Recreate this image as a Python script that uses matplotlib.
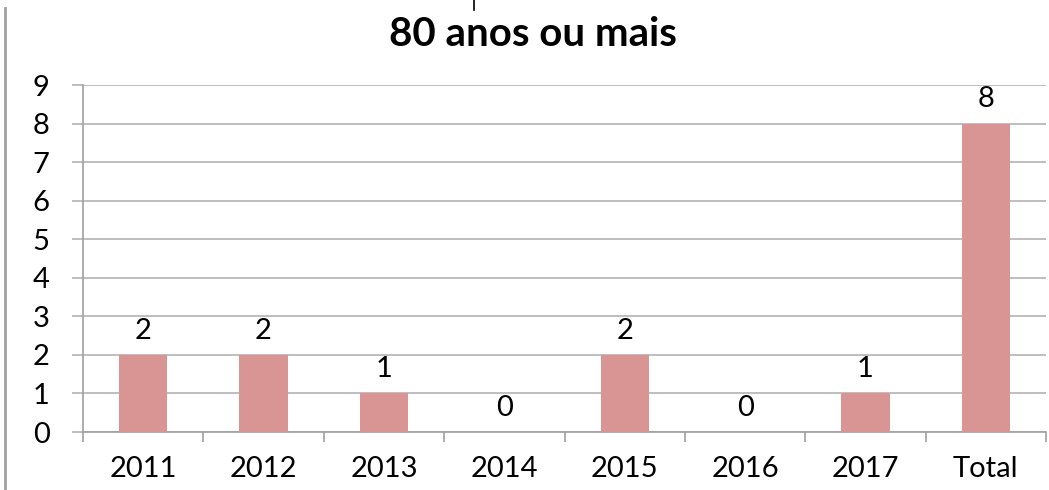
import matplotlib.pyplot as plt
from matplotlib.lines import Line2D

categories = ['2011', '2012', '2013', '2014', '2015', '2016', '2017', 'Total']
values = [2, 2, 1, 0, 2, 0, 1, 8]
title = '80 anos ou mais'

plt.rcParams['font.family'] = ['Lato', 'DejaVu Sans']

fig = plt.figure(figsize=(10.49, 4.9), dpi=100)
ax = fig.add_axes([83 / 1049, 58 / 490, 963 / 1049, 347 / 490])

x = range(len(categories))
bars = ax.bar(x, values, width=0.4, color='#d99594', zorder=3)

# data labels
for xi, v in zip(x, values):
    ax.annotate(str(v), (xi, v), xytext=(0, 8), textcoords='offset points',
                ha='center', va='bottom', fontsize=21, color='black')

ax.set_xlim(-0.5, len(categories) - 0.5)
ax.set_ylim(0, 9)
ax.set_yticks(range(10))
ax.yaxis.grid(True, color='#b3b3b3', linewidth=1.2, zorder=0)
ax.tick_params(axis='y', length=8, width=1.2, color='#b3b3b3', pad=16, labelsize=21)

# category labels at centres, tick marks at boundaries
ax.set_xticks(list(x))
ax.set_xticklabels(categories, fontsize=21)
ax.tick_params(axis='x', length=0, pad=17)
ax.set_xticks([i - 0.5 for i in range(len(categories) + 1)], minor=True)
ax.tick_params(axis='x', which='minor', length=7, width=1.2, color='#a0a0a0')

for s in ['top', 'right']:
    ax.spines[s].set_visible(False)
ax.spines['left'].set_color('#a0a0a0')
ax.spines['left'].set_linewidth(1.2)
ax.spines['bottom'].set_color('#a0a0a0')
ax.spines['bottom'].set_linewidth(1.2)

fig.text(533 / 1049, 1 - 35 / 490, title, ha='center', va='center',
         fontsize=29, fontweight='bold')

# page border remnants
fig.add_artist(Line2D([5 / 1049, 5 / 1049], [0, 1 - 8 / 490], color='#a0a0a0', linewidth=2))
fig.add_artist(Line2D([474 / 1049, 474 / 1049], [1, 1 - 10 / 490], color='black', linewidth=1.2))

fig.savefig('out.png', dpi=100)
